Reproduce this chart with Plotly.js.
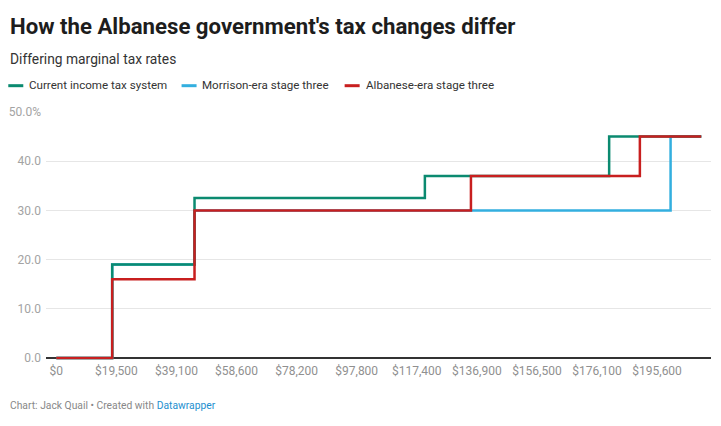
<!DOCTYPE html>
<html>
<head>
<meta charset="utf-8">
<script src="https://cdn.plot.ly/plotly-3.0.1.min.js"></script>
<style>
html,body{margin:0;padding:0;background:#fff;}
#chart{width:721px;height:426px;}
</style>
</head>
<body>
<div id="chart"></div>
<script>
// ---- data (taxable income in $, marginal rate in %) ----
const seriesNames = ["Current income tax system", "Morrison-era stage three", "Albanese-era stage three"];
const currentIncome = [0, 18200, 45000, 120000, 180000, 210000];
const currentRate   = [0, 19, 32.5, 37, 45, 45];
const morrisonIncome = [0, 18200, 45000, 200000, 210000];
const morrisonRate   = [0, 19, 30, 45, 45];
const albaneseIncome = [0, 18200, 45000, 135000, 190000, 210000];
const albaneseRate   = [0, 16, 30, 37, 45, 45];
const xTickVals = [0, 19560, 39120, 58680, 78240, 97800, 117360, 136920, 156480, 176040, 195600];
const xTickText = ["$0", "$19,500", "$39,100", "$58,600", "$78,200", "$97,800", "$117,400", "$136,900", "$156,500", "$176,100", "$195,600"];
const yTickVals = [0, 10, 20, 30, 40, 50];
const yTickText = ["0.0", "10.0", "20.0", "30.0", "40.0", "50.0%"];

const colors = {green: "#0b8a70", blue: "#33afdf", red: "#c81f1f"};
const FONT = "Roboto, 'Noto Sans', sans-serif";

// plot area in pixels
const W = 721, H = 426;
const L = 46, R = 10.3, T = 111.3, B = 63.8;
const pw = W - L - R, ph = H - T - B;
const px = v => (v - L) / pw;          // pixel x -> paper x
const py = v => (H - B - v) / ph;      // pixel y -> paper y

const traces = [
  {x: morrisonIncome, y: morrisonRate, name: seriesNames[1], color: colors.blue},
  {x: currentIncome, y: currentRate, name: seriesNames[0], color: colors.green},
  {x: albaneseIncome, y: albaneseRate, name: seriesNames[2], color: colors.red}
].map(s => ({
  type: "scatter", mode: "lines", x: s.x, y: s.y, name: s.name,
  line: {shape: "hv", color: s.color, width: 2.5},
  hoverinfo: "skip", showlegend: false
}));

// legend (manual, Datawrapper style)
const legendItems = [
  {name: seriesNames[0], color: colors.green, x0: 8.3, tx: 27},
  {name: seriesNames[1], color: colors.blue, x0: 181.5, tx: 199.5},
  {name: seriesNames[2], color: colors.red, x0: 344.5, tx: 363.5}
];
const legendY = 86;
const shapes = legendItems.map(it => ({
  type: "line", xref: "paper", yref: "paper",
  x0: px(it.x0), x1: px(it.x0 + 15), y0: py(legendY), y1: py(legendY),
  line: {color: it.color, width: 3}
}));

const annotations = [
  {text: "<b>How the Albanese government's tax changes differ</b>", x: px(8), y: py(26),
   font: {family: FONT, size: 22.2, color: "#1d1d1d"}},
  {text: "Differing marginal tax rates", x: px(8.5), y: py(59.5),
   font: {family: FONT, size: 13.8, color: "#333"}},
  {text: "Chart: Jack Quail • Created with <span style='color:#1d8fcf'>Datawrapper</span>", x: px(8.5), y: py(405.5),
   font: {family: FONT, size: 10.3, color: "#888"}}
].concat(legendItems.map(it => ({
  text: it.name, x: px(it.tx), y: py(legendY - 0.5),
  font: {family: FONT, size: 11.6, color: "#333"}
}))).map(a => Object.assign({xref: "paper", yref: "paper", xanchor: "left", yanchor: "middle", showarrow: false}, a));

const layout = {
  width: W, height: H,
  margin: {l: L, r: R, t: T, b: B, pad: 0},
  paper_bgcolor: "#fff", plot_bgcolor: "#fff",
  font: {family: FONT},
  showlegend: false,
  xaxis: {
    range: [-3355, 213160], tickmode: "array", tickvals: xTickVals, ticktext: xTickText,
    showgrid: false, zeroline: false, showline: false, ticks: "",
    tickfont: {family: FONT, size: 12, color: "#909090"}, fixedrange: true
  },
  yaxis: {
    range: [-0.8, 50.2], tickmode: "array", tickvals: yTickVals, ticktext: yTickText,
    showgrid: true, gridcolor: "#e6e6e6", gridwidth: 1,
    zeroline: true, zerolinecolor: "#333", zerolinewidth: 1.5,
    showline: false, ticks: "", ticklabelstandoff: 4,
    tickfont: {family: FONT, size: 12, color: "#a3a3a3"}, fixedrange: true
  },
  shapes: shapes,
  annotations: annotations
};

Plotly.newPlot("chart", traces, layout, {displayModeBar: false, staticPlot: true});
</script>
</body>
</html>
